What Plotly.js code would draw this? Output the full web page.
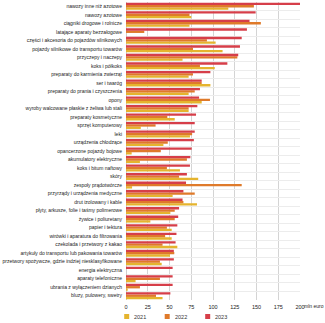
<!DOCTYPE html>
<html>
<head>
<meta charset="utf-8">
<script src="https://cdn.plot.ly/plotly-3.0.1.min.js"></script>
<style>html,body{margin:0;padding:0;background:#fff;}#chart{width:325px;height:323px;}</style>
</head>
<body>
<div id="chart"></div>
<script>
const categories = [
  "nawozy inne niż azotowe",
  "nawozy azotowe",
  "ciągniki drogowe i rolnicze",
  "latające aparaty bezzałogowe",
  "części i akcesoria do pojazdów silnikowych",
  "pojazdy silnikowe do transportu towarów",
  "przyczepy i naczepy",
  "koks i półkoks",
  "preparaty do karmienia zwierząt",
  "ser i twaróg",
  "preparaty do prania i czyszczenia",
  "opony",
  "wyroby walcowane płaskie z żeliwa lub stali",
  "preparaty kosmetyczne",
  "sprzęt komputerowy",
  "leki",
  "urządzenia chłodzące",
  "opancerzone pojazdy bojowe",
  "akumulatory elektryczne",
  "koks i bitum naftowy",
  "skóry",
  "zespoły prądotwórcze",
  "przyrządy i urządzenia medyczne",
  "drut izolowany i kable",
  "płyty, arkusze, folie i taśmy polimerowe",
  "żywice i poliuretany",
  "papier i tektura",
  "wirówki i aparatura do filtrowania",
  "czekolada i przetwory z kakao",
  "artykuły do transportu lub pakowania towarów",
  "przetwory spożywcze, gdzie indziej niesklasyfikowane",
  "energia elektryczna",
  "aparaty telefoniczne",
  "ubrania z wyłączeniem dzianych",
  "bluzy, pulowery, swetry"
];
const years = ["2021", "2022", "2023"];
const v2021 = [117.6, 75, 73, null, 103, 111, 65, 102, 72, 97, 72, 87, 72, 56, 17, 73.5, 43, 6.5, 16, 62, 83, 7, 53.6, 81.6, 51, 28, 52.5, 52.5, 59, 50.5, 41, null, 11, 2, 42];
const v2022 = [147, 73, 155, 21, 93, 77, 128, 85, 77, 87, 79, 96.5, 72, 47.5, 34, 76, 48, 40, 70, 47, 61, 133, 79, 66, 56, 56, 47, 45, 42, 55.5, 39, null, 39, 16, 34.5];
const v2023 = [200, 149, 142, 139, 133, 131, 129, 116.5, 97, 87, 85, 84, 82, 80.5, 79, 79, 78, 75.5, 74, 73.5, 70, 69, 66, 65, 61, 60, 59, 58, 57, 55, 55, 53.6, 53.6, 53.6, 51];
const tickVals = [0, 25, 50, 75, 100, 125, 150, 175, 200];
const tickText = ["0", "25", "50", "75", "100", "125", "150", "175", "200"];
const unitLabel = "mln euro";

const colors = ["#E5B42E", "#DF7A2A", "#D63E49"];
const series = [v2021, v2022, v2023];
const data = series.map((vals, i) => ({
  type: "bar",
  orientation: "h",
  name: years[i],
  y: categories,
  x: vals,
  marker: {color: colors[i]},
  showlegend: false,
  hoverinfo: "x+y+name"
}));

// compact legend below the plot: small squares + year labels
const legendStep = 40.5;   // px between entries
const shapes = [];
const annotations = [{
  text: unitLabel, xref: "x", x: 200, xanchor: "left", xshift: 2,
  yref: "paper", y: 0, yanchor: "top", yshift: -1, showarrow: false,
  font: {size: 5, color: "#222"}
}];
years.forEach((yr, i) => {
  const cx = 0.7 + i * legendStep;
  shapes.push({
    type: "rect", xref: "paper", yref: "paper",
    xsizemode: "pixel", ysizemode: "pixel", xanchor: 0, yanchor: 0,
    x0: cx - 2.5, x1: cx + 2.5, y0: -19, y1: -14,
    fillcolor: colors[i], line: {width: 0}
  });
  annotations.push({
    text: yr, xref: "paper", x: 0, xanchor: "left", xshift: cx + 5.5,
    yref: "paper", y: 0, yanchor: "middle", yshift: -16.5, showarrow: false,
    font: {size: 5.5, color: "#333"}
  });
});

const layout = {
  width: 325, height: 323,
  margin: {l: 126, r: 25, t: 2, b: 23},
  paper_bgcolor: "#fff", plot_bgcolor: "#fff",
  font: {family: "Liberation Sans, Arial, sans-serif", size: 5, color: "#333"},
  barmode: "group",
  bargap: 0.18,
  bargroupgap: 0,
  showlegend: false,
  xaxis: {
    range: [0, 200], tickvals: tickVals, ticktext: tickText,
    showgrid: true, gridcolor: "#d4d4d4", gridwidth: 1,
    zeroline: true, zerolinecolor: "#cfcfcf", zerolinewidth: 1,
    ticks: "", tickfont: {size: 5.5, color: "#222"}, fixedrange: true,
    automargin: false, ticklabelstandoff: 2
  },
  yaxis: {
    type: "category", categoryorder: "array",
    categoryarray: categories.slice().reverse(),
    tickson: "boundaries", showgrid: true, gridcolor: "#ececec", gridwidth: 1,
    ticks: "", tickfont: {size: 5, color: "#222"}, automargin: false,
    ticklabelstandoff: 3
  },
  shapes: shapes,
  annotations: annotations
};
Plotly.newPlot("chart", data, layout, {displayModeBar: false, staticPlot: true});
</script>
</body>
</html>
